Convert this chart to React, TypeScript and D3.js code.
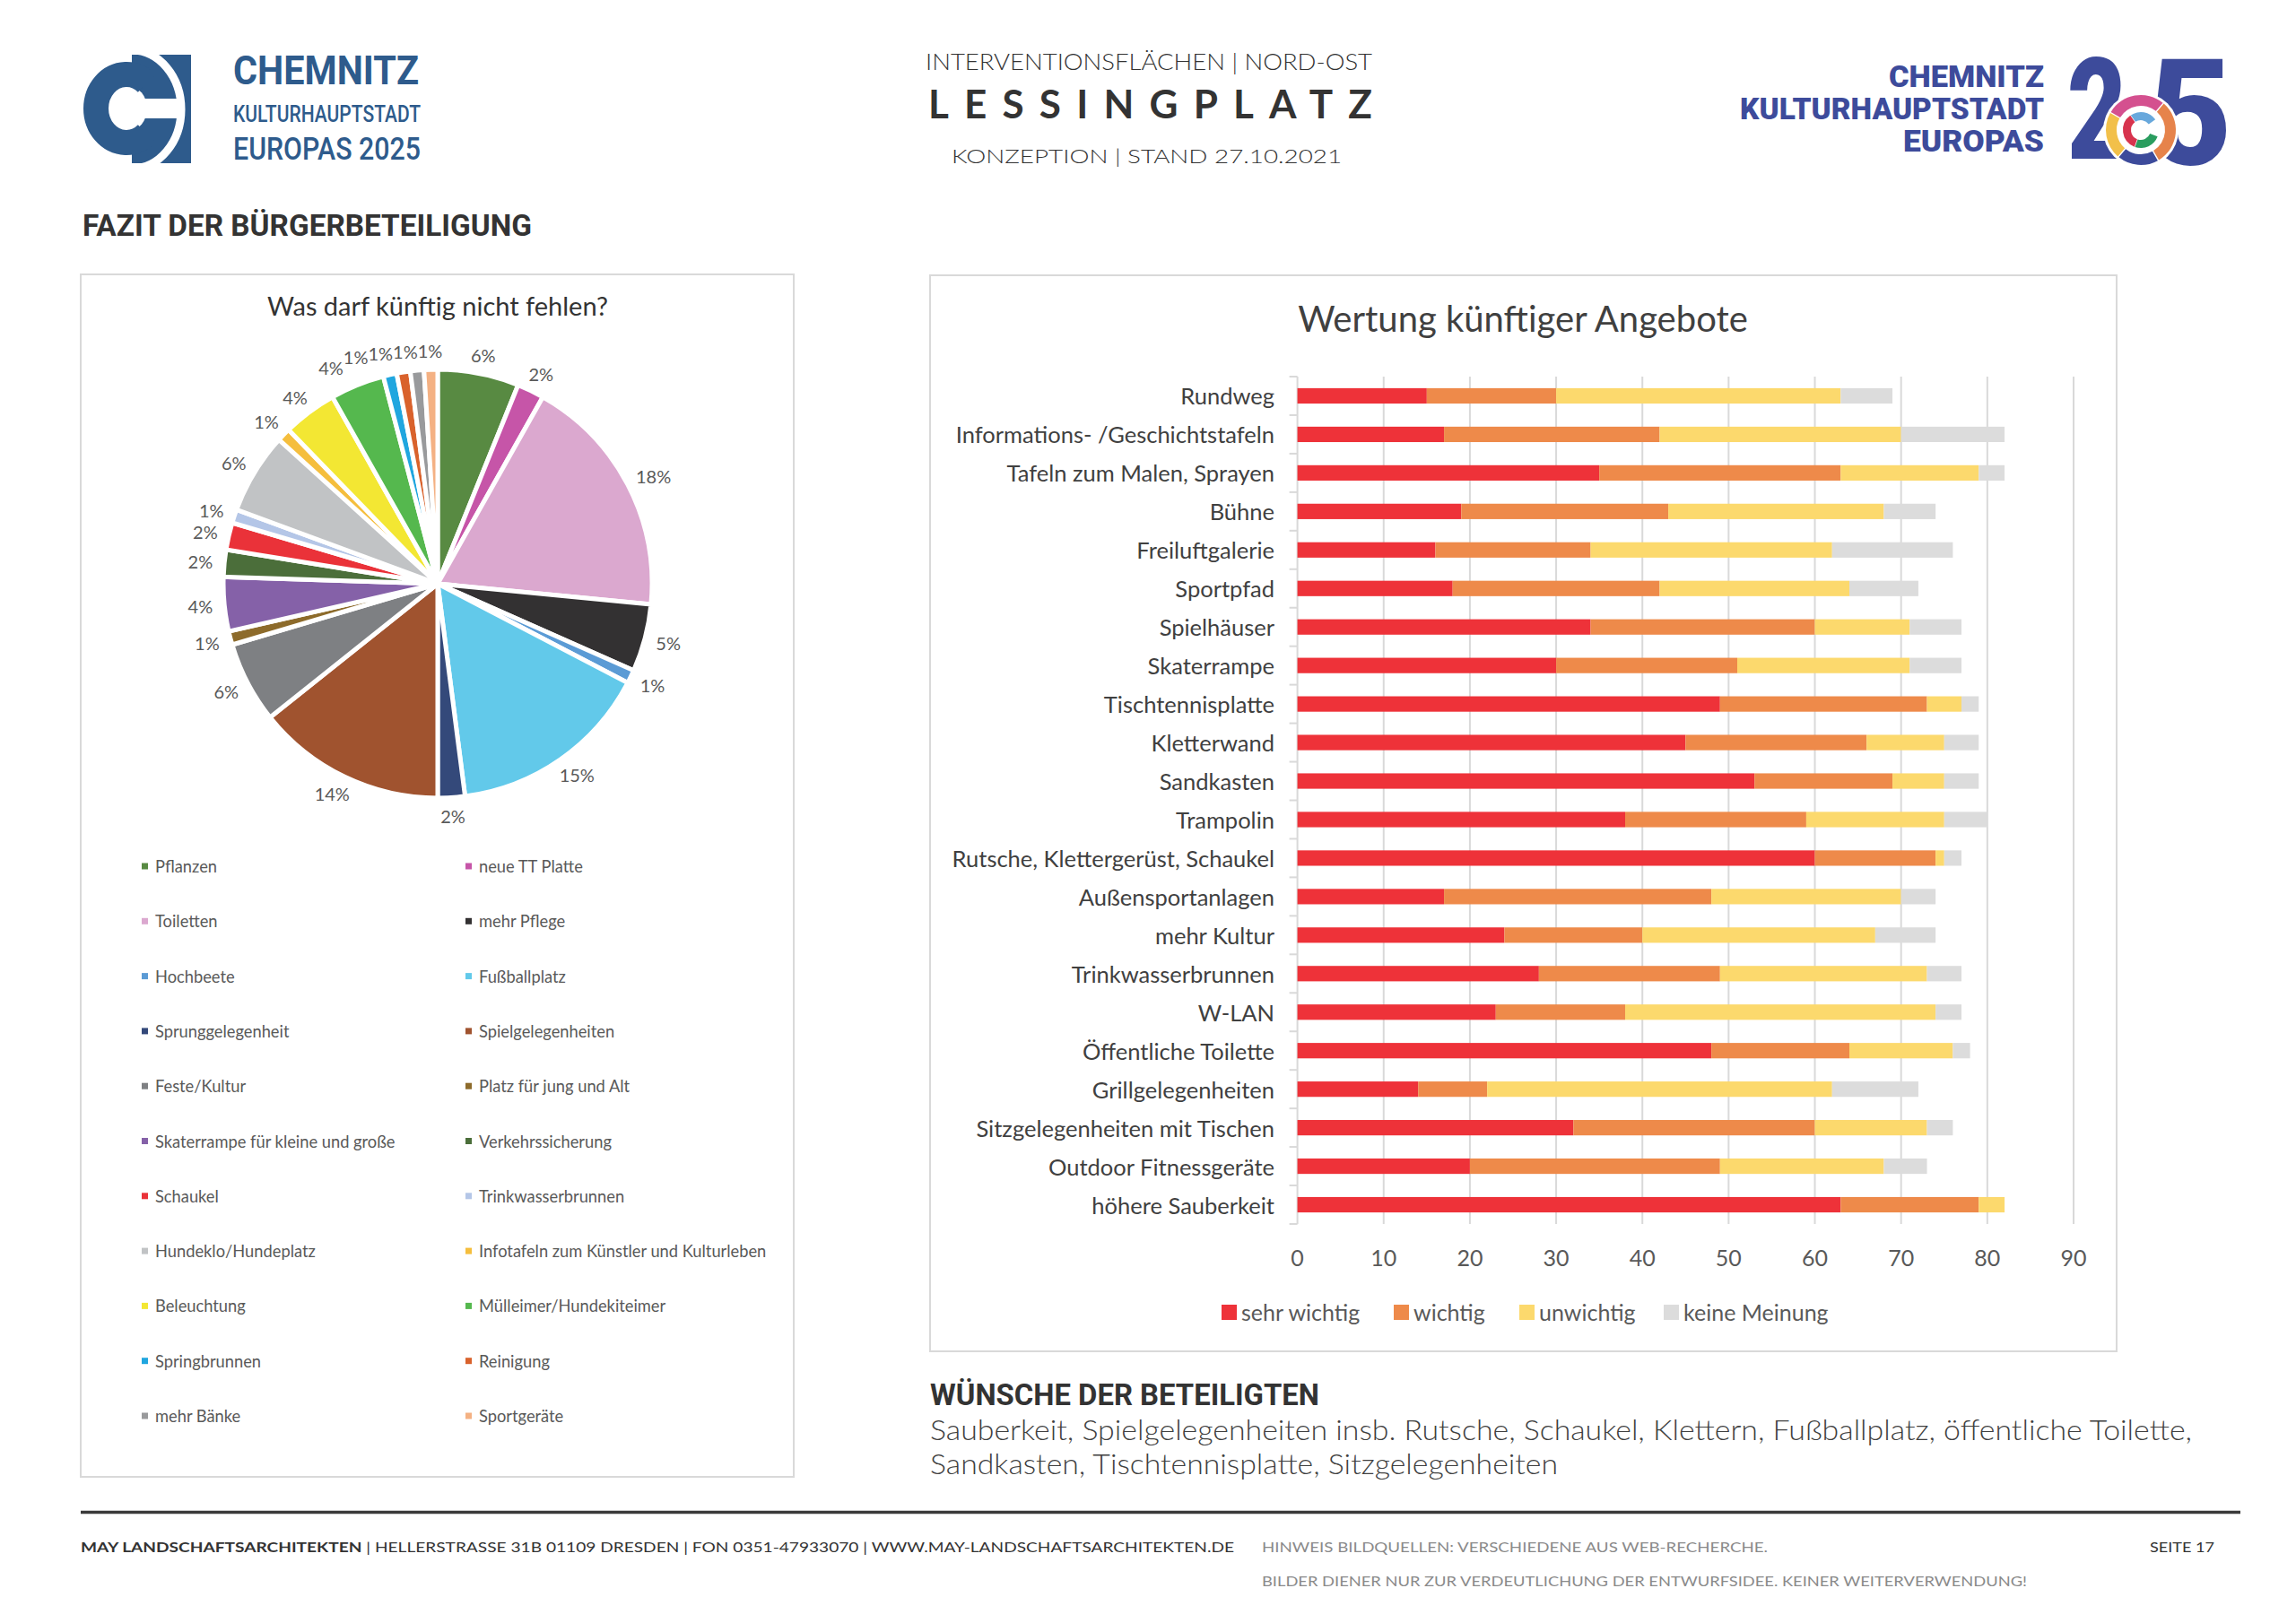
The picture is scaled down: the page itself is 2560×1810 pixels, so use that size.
import React from "react";
import * as d3 from "d3";

// ---------- Pie data ----------
const pieCategories = [
  "Pflanzen", "neue TT Platte", "Toiletten", "mehr Pflege", "Hochbeete", "Fußballplatz",
  "Sprunggelegenheit", "Spielgelegenheiten", "Feste/Kultur", "Platz für jung und Alt",
  "Skaterrampe für kleine und große", "Verkehrssicherung", "Schaukel", "Trinkwasserbrunnen",
  "Hundeklo/Hundeplatz", "Infotafeln zum Künstler und Kulturleben", "Beleuchtung",
  "Mülleimer/Hundekiteimer", "Springbrunnen", "Reinigung", "mehr Bänke", "Sportgeräte",
];
const pieValues = [6, 2, 18, 5, 1, 15, 2, 14, 6, 1, 4, 2, 2, 1, 6, 1, 4, 4, 1, 1, 1, 1];
const pieColors = [
  "#588a42", "#c655a8", "#dba8cf", "#333132", "#5b9bd5", "#62c9ea", "#34497a", "#a0532f",
  "#7e8083", "#8d6b2b", "#8561a8", "#4b6e3a", "#ea3239", "#b4c6e7", "#c1c3c5", "#f5be3d",
  "#f3e733", "#55b84e", "#20a6df", "#d9622c", "#999a9c", "#f4b183",
];

// ---------- Bar data ----------
const barCategories = [
  "Rundweg", "Informations- /Geschichtstafeln", "Tafeln zum Malen, Sprayen", "Bühne",
  "Freiluftgalerie", "Sportpfad", "Spielhäuser", "Skaterrampe", "Tischtennisplatte",
  "Kletterwand", "Sandkasten", "Trampolin", "Rutsche, Klettergerüst, Schaukel",
  "Außensportanlagen", "mehr Kultur", "Trinkwasserbrunnen", "W-LAN", "Öffentliche Toilette",
  "Grillgelegenheiten", "Sitzgelegenheiten mit Tischen", "Outdoor Fitnessgeräte", "höhere Sauberkeit",
];
const sehrWichtig = [15, 17, 35, 19, 16, 18, 34, 30, 49, 45, 53, 38, 60, 17, 24, 28, 23, 48, 14, 32, 20, 63];
const wichtig = [15, 25, 28, 24, 18, 24, 26, 21, 24, 21, 16, 21, 14, 31, 16, 21, 15, 16, 8, 28, 29, 16];
const unwichtig = [33, 28, 16, 25, 28, 22, 11, 20, 4, 9, 6, 16, 1, 22, 27, 24, 36, 12, 40, 13, 19, 3];
const keineMeinung = [6, 12, 3, 6, 14, 8, 6, 6, 2, 4, 4, 5, 2, 4, 7, 4, 3, 2, 10, 3, 5, 0];
const seriesNames = ["sehr wichtig", "wichtig", "unwichtig", "keine Meinung"];
const seriesColors = ["#ee3239", "#ee8a4a", "#fcd96d", "#dcdcdc"];
const xTickValues = [0, 10, 20, 30, 40, 50, 60, 70, 80, 90];

const CAL = "Lato, 'Open Sans', sans-serif";
const GOTH = "Lato, 'Noto Sans', sans-serif";

export default function App() {
  // ----- pie geometry -----
  const cx = 488, cy = 651, r = 239;
  const pieGen = d3.pie<number>().sort(null).value((d) => d);
  const arcs = pieGen(pieValues);
  const arcGen = d3.arc<d3.PieArcDatum<number>>().innerRadius(0).outerRadius(r);
  const lfs = 20;
  const labels = arcs.map((p, i) => {
    const a = (p.startAngle + p.endAngle) / 2;
    const text = `${pieValues[i]}%`;
    const w = lfs * (0.56 * String(pieValues[i]).length + 0.82);
    const h = lfs * 0.8;
    const ar = r + 13;
    return {
      a, text, w, h,
      x: cx + ar * Math.sin(a) + (w / 2) * Math.sin(a),
      y: cy - ar * Math.cos(a) - (h / 2) * Math.cos(a),
    };
  });
  const ul = labels.filter((l) => l.a > Math.PI * 1.5).sort((p, q) => q.a - p.a);
  for (let k = 1; k < ul.length; k++) {
    const prev = ul[k - 1], cur = ul[k];
    if (Math.abs(prev.y - cur.y) < cur.h && cur.x + cur.w / 2 > prev.x - prev.w / 2) {
      cur.x = prev.x - prev.w / 2 - cur.w / 2;
    }
  }

  // ----- bar geometry -----
  const rows = barCategories.map((c, i) => ({
    cat: c,
    [seriesNames[0]]: sehrWichtig[i],
    [seriesNames[1]]: wichtig[i],
    [seriesNames[2]]: unwichtig[i],
    [seriesNames[3]]: keineMeinung[i],
  }));
  const stacked = d3.stack<any>().keys(seriesNames)(rows);
  const x = d3.scaleLinear().domain([0, 90]).range([1446.6, 2312]);
  const y = d3.scaleBand().domain(barCategories).range([420, 1365]).paddingInner(0.6).paddingOuter(0.3);
  const bandTicks = d3.range(barCategories.length + 1).map((i) => 420 + i * y.step());

  // right logo ring
  const ringArc = d3.arc<any>();
  const ringSegs = [
    { s: -60, e: 40, c: "#d4508f" },
    { s: 40, e: 150, c: "#e6834b" },
    { s: 150, e: 220, c: "#3d4b9b" },
    { s: 220, e: 300, c: "#f2c04a" },
  ];
  const innerSegs = [
    { s: -35, e: 55, c: "#68a8dc" },
    { s: 110, e: 200, c: "#2a9d5f" },
    { s: 200, e: 325, c: "#d7344e" },
  ];
  const rad = (d: number) => (d * Math.PI) / 180;

  const legendRows = d3.range(Math.ceil(pieCategories.length / 2));

  return (
    <svg width={2560} height={1810} style={{ position: "absolute", left: 0, top: 0, background: "#fff" }}>
      <rect x={0} y={0} width={2560} height={1810} fill="#fff" />

      {/* ---------- Left logo ---------- */}
      <g>
        <rect x={147} y={61} width={66} height={121} fill="#2e5b8c" />
        <ellipse cx={143} cy={121} rx={21} ry={25} fill="#fff" />
        <rect x={143} y={110} width={55} height={22} fill="#fff" />
        <path d="M 163.8 92.8 A 34 38 0 1 0 163.8 149.2" fill="none" stroke="#2e5b8c" strokeWidth={28} />
        <path d="M 147 56 A 55 66 0 0 1 147 188" fill="none" stroke="#fff" strokeWidth={9} />
        <text x={260} y={94} fontFamily="Roboto, sans-serif" fontWeight={700} fontSize={44} fill="#2e5b8c" textLength={207} lengthAdjust="spacingAndGlyphs">CHEMNITZ</text>
        <text x={260} y={136} fontFamily="Roboto, sans-serif" fontWeight={500} fontSize={26} fill="#2e5b8c" textLength={209} lengthAdjust="spacingAndGlyphs">KULTURHAUPTSTADT</text>
        <text x={260} y={178} fontFamily="Roboto, sans-serif" fontWeight={500} fontSize={35} fill="#2e5b8c" textLength={209} lengthAdjust="spacingAndGlyphs">EUROPAS 2025</text>
      </g>

      {/* ---------- Center header ---------- */}
      <g fill="#333" fontFamily={GOTH}>
        <text x={1032} y={78} fontSize={25} fontWeight={300} textLength={498} lengthAdjust="spacingAndGlyphs">INTERVENTIONSFLÄCHEN | NORD-OST</text>
        <text x={1035} y={132} fontSize={44} fontWeight={700} textLength={495} lengthAdjust="spacing">LESSINGPLATZ</text>
        <text x={1061} y={182} fontSize={22} fontWeight={300} textLength={435} lengthAdjust="spacingAndGlyphs">KONZEPTION | STAND 27.10.2021</text>
      </g>

      {/* ---------- Right logo ---------- */}
      <g fill="#3d4b9b" fontFamily="Roboto, sans-serif" fontWeight={900}>
        <text x={2106} y={97} fontSize={33} textLength={173} lengthAdjust="spacingAndGlyphs">CHEMNITZ</text>
        <text x={1940} y={133} fontSize={33} textLength={339} lengthAdjust="spacingAndGlyphs">KULTURHAUPTSTADT</text>
        <text x={2122} y={169} fontSize={33} textLength={157} lengthAdjust="spacingAndGlyphs">EUROPAS</text>
        <text x={2305} y={177} fontSize={158} textLength={66} lengthAdjust="spacingAndGlyphs">2</text>
        <text x={2395} y={183} fontSize={165} textLength={94} lengthAdjust="spacingAndGlyphs">5</text>
        <circle cx={2387} cy={145} r={42} fill="#fff" />
        {ringSegs.map((s, i) => (
          <path key={i} transform="translate(2387,145)" fill={s.c}
            d={ringArc({ innerRadius: 27, outerRadius: 39, startAngle: rad(s.s), endAngle: rad(s.e), padAngle: 0.03 }) as string} />
        ))}
        {innerSegs.map((s, i) => (
          <path key={"i" + i} transform="translate(2387,145)" fill={s.c}
            d={ringArc({ innerRadius: 11, outerRadius: 20, startAngle: rad(s.s), endAngle: rad(s.e), padAngle: 0.03 }) as string} />
        ))}
      </g>

      {/* ---------- Section heading ---------- */}
      <text x={92} y={263} fontFamily="Roboto, sans-serif" fontWeight={700} fontSize={33} fill="#333" textLength={501} lengthAdjust="spacingAndGlyphs">FAZIT DER BÜRGERBETEILIGUNG</text>

      {/* ---------- Pie panel ---------- */}
      <rect x={90} y={306} width={795} height={1341} fill="#fff" stroke="#d9d9d9" strokeWidth={2} />
      <text x={488} y={352} textAnchor="middle" fontFamily={CAL} fontSize={29} fill="#333">Was darf künftig nicht fehlen?</text>
      <g transform={`translate(${cx},${cy})`}>
        {arcs.map((a, i) => (
          <path key={i} d={arcGen(a) as string} fill={pieColors[i]} stroke="#fff" strokeWidth={5} strokeLinejoin="round" />
        ))}
      </g>
      {labels.map((l, i) => (
        <text key={i} x={l.x} y={l.y} textAnchor="middle" dominantBaseline="central" fontFamily={CAL} fontSize={lfs} fill="#595959">{l.text}</text>
      ))}
      {legendRows.map((row) =>
        [0, 1].map((col) => {
          const idx = row * 2 + col;
          if (idx >= pieCategories.length) return null;
          const yy = 966 + row * 61.3;
          const mx = col === 0 ? 158 : 519;
          return (
            <g key={idx}>
              <rect x={mx} y={yy - 3.5} width={7} height={7} fill={pieColors[idx]} />
              <text x={mx + 15} y={yy} dominantBaseline="central" fontFamily={CAL} fontSize={18.3} fill="#595959">{pieCategories[idx]}</text>
            </g>
          );
        })
      )}

      {/* ---------- Bar panel ---------- */}
      <rect x={1037} y={307} width={1323} height={1200} fill="#fff" stroke="#d9d9d9" strokeWidth={2} />
      <text x={1698} y={370} textAnchor="middle" fontFamily={CAL} fontSize={40} fill="#404040">Wertung künftiger Angebote</text>
      {xTickValues.map((t) => (
        <line key={t} x1={x(t)} x2={x(t)} y1={420} y2={1365} stroke="#d9d9d9" strokeWidth={2} />
      ))}
      {bandTicks.map((t, i) => (
        <line key={i} x1={x(0) - 9} x2={x(0)} y1={t} y2={t} stroke="#d9d9d9" strokeWidth={2} />
      ))}
      {stacked.map((layer, si) =>
        layer.map((d, i) => (
          <rect key={si + "-" + i} x={x(d[0])} y={y(barCategories[i])} width={Math.max(0, x(d[1]) - x(d[0]))}
            height={y.bandwidth()} fill={seriesColors[si]} />
        ))
      )}
      {barCategories.map((c) => (
        <text key={c} x={1421} y={(y(c) as number) + y.bandwidth() / 2} textAnchor="end" dominantBaseline="central"
          fontFamily={CAL} fontSize={25.5} fill="#404040">{c}</text>
      ))}
      {xTickValues.map((t) => (
        <text key={t} x={x(t)} y={1402} textAnchor="middle" dominantBaseline="central" fontFamily={CAL} fontSize={25} fill="#595959">{t}</text>
      ))}
      {(() => {
        const lx = [1362, 1554, 1694, 1855];
        return seriesNames.map((s, i) => (
          <g key={s}>
            <rect x={lx[i]} y={1455} width={17} height={17} fill={seriesColors[i]} />
            <text x={lx[i] + 22} y={1463} dominantBaseline="central" fontFamily={CAL} fontSize={25} fill="#595959">{s}</text>
          </g>
        ));
      })()}

      {/* ---------- Wishes ---------- */}
      <text x={1037} y={1567} fontFamily="Roboto, sans-serif" fontWeight={700} fontSize={34} fill="#333" textLength={434} lengthAdjust="spacingAndGlyphs">WÜNSCHE DER BETEILIGTEN</text>
      <text x={1037} y={1606} fontFamily={GOTH} fontWeight={300} fontSize={31} fill="#404040" textLength={1407} lengthAdjust="spacingAndGlyphs">Sauberkeit, Spielgelegenheiten insb. Rutsche, Schaukel, Klettern, Fußballplatz, öffentliche Toilette,</text>
      <text x={1037} y={1644} fontFamily={GOTH} fontWeight={300} fontSize={31} fill="#404040" textLength={700} lengthAdjust="spacingAndGlyphs">Sandkasten, Tischtennisplatte, Sitzgelegenheiten</text>

      {/* ---------- Footer ---------- */}
      <line x1={90} x2={2498} y1={1686.5} y2={1686.5} stroke="#3a3a3a" strokeWidth={3.5} />
      <text x={90} y={1731} fontFamily={GOTH} fontSize={16} fill="#333" textLength={1286} lengthAdjust="spacingAndGlyphs">
        <tspan fontWeight={700}>MAY LANDSCHAFTSARCHITEKTEN</tspan>
        <tspan> | HELLERSTRASSE 31B   01109 DRESDEN | FON 0351-47933070 | WWW.MAY-LANDSCHAFTSARCHITEKTEN.DE</tspan>
      </text>
      <text x={1407} y={1731} fontFamily={GOTH} fontSize={16} fill="#8a8a8a" textLength={564} lengthAdjust="spacingAndGlyphs">HINWEIS BILDQUELLEN: VERSCHIEDENE AUS WEB-RECHERCHE.</text>
      <text x={1407} y={1769} fontFamily={GOTH} fontSize={16} fill="#8a8a8a" textLength={853} lengthAdjust="spacingAndGlyphs">BILDER DIENER NUR ZUR VERDEUTLICHUNG DER ENTWURFSIDEE. KEINER WEITERVERWENDUNG!</text>
      <text x={2469} y={1731} textAnchor="end" fontFamily={GOTH} fontSize={16} fill="#333" textLength={72} lengthAdjust="spacingAndGlyphs">SEITE 17</text>
    </svg>
  );
}
